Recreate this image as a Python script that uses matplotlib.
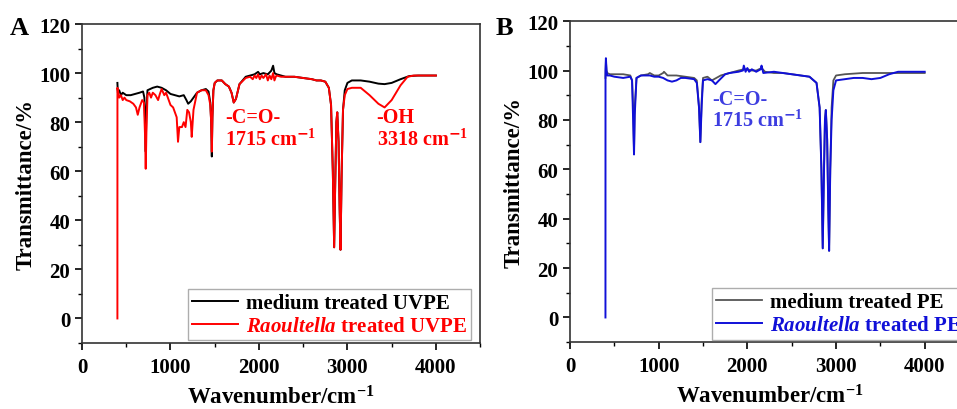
import matplotlib
matplotlib.use('Agg')
import matplotlib.pyplot as plt
from matplotlib.ticker import MultipleLocator

plt.rcParams['font.family'] = 'Liberation Serif'
plt.rcParams['font.weight'] = 'bold'
plt.rcParams['mathtext.fontset'] = 'custom'
plt.rcParams['mathtext.rm'] = 'Liberation Serif:bold'
plt.rcParams['mathtext.it'] = 'Liberation Serif:italic:bold'
plt.rcParams['mathtext.bf'] = 'Liberation Serif:bold'

# ---- panel A : UVPE ----
wn_a_med = [400, 405, 420, 440, 460, 500, 550, 600, 650, 690, 705, 713, 720, 727, 740, 770,
            800, 850, 900, 950, 1000, 1050, 1100, 1150, 1180, 1200, 1230, 1260, 1300, 1350,
            1400, 1430, 1450, 1460, 1467, 1474, 1485, 1500, 1530, 1580, 1620, 1660, 1690,
            1715, 1740, 1780, 1850, 1900, 1950, 1990, 2010, 2050, 2100, 2140, 2160, 2175,
            2200, 2250, 2300, 2400, 2500, 2600, 2650, 2700, 2750, 2790, 2815, 2835, 2850,
            2862, 2875, 2885, 2900, 2912, 2922, 2935, 2950, 2970, 3000, 3050, 3150, 3250,
            3350, 3420, 3500, 3600, 3700, 3800, 3900, 4000]
tr_a_med = [96, 92, 93, 91, 92, 91, 91, 91.5, 92, 92.5, 90, 80, 68, 84, 93, 93.5,
            94, 94.5, 94, 93, 91.5, 91, 90.5, 91, 89, 87.5, 88.5, 90, 92, 93,
            93.5, 92.5, 88, 80, 66, 82, 93, 96, 97, 97, 95.5, 94.5, 92,
            88, 89.5, 95.5, 98.5, 99, 99.5, 100.5, 99.5, 100, 99.5, 101, 103, 100,
            99.5, 99, 98.5, 98.5, 98, 97.5, 97, 97, 96.5, 94, 87, 60, 29,
            55, 80, 84, 72, 45, 28, 60, 85, 93, 96, 97, 97, 96.5,
            95.7, 95.5, 96, 97.5, 98.8, 99, 99, 99]

wn_a_rao = [400, 400.5, 405, 420, 440, 460, 480, 500, 540, 580, 610, 630, 650, 680, 700,
            712, 720, 728, 740, 760, 780, 800, 830, 860, 880, 900, 930, 950, 980, 1000,
            1030, 1050, 1070, 1085, 1100, 1130, 1150, 1170, 1190, 1210, 1230, 1240, 1260,
            1300, 1350, 1400, 1430, 1450, 1460, 1467, 1474, 1485, 1500, 1530, 1580, 1620,
            1660, 1690, 1715, 1740, 1780, 1850, 1900, 1930, 1950, 1970, 1990, 2010, 2030,
            2050, 2080, 2100, 2120, 2140, 2160, 2175, 2190, 2200, 2250, 2300, 2400, 2500,
            2600, 2650, 2700, 2750, 2790, 2815, 2835, 2850, 2862, 2875, 2885, 2900, 2912,
            2922, 2935, 2950, 2970, 3000, 3050, 3150, 3250, 3350, 3420, 3500, 3600, 3680,
            3750, 3850, 4000]
tr_a_rao = [0, 94, 93, 90, 91, 89, 90, 89, 88.5, 87.5, 86, 83, 86, 89, 88,
            75, 61, 76, 91, 92, 90, 92, 91, 89, 91.5, 93.5, 91, 92, 89, 87,
            86, 84, 82, 72, 78, 78, 80, 78, 85, 84, 80, 74, 85,
            92, 93, 93, 91, 87, 80, 68, 82, 93, 96, 97, 97, 95.5,
            94.5, 92, 88, 89.5, 95.5, 98, 98.5, 97.5, 99, 98, 99.5, 97.5, 99,
            98, 99.5, 97, 99, 97.5, 100, 97, 98.5, 99, 98.5, 98.5, 98.5, 98,
            97.5, 97, 97, 96.5, 94, 87, 60, 29,
            55, 80, 84, 72, 45, 28, 60, 85, 91, 93.5, 94, 94, 91,
            87.5, 86, 89, 95, 98.5, 99, 99, 99]

# ---- panel B : PE ----
wn_b_med = [400, 405, 412, 420, 450, 500, 600, 680, 700, 712, 722, 730, 750, 800, 880,
            900, 950, 1000, 1050, 1060, 1100, 1200, 1300, 1400, 1430, 1455, 1470, 1485,
            1500, 1550, 1600, 1650, 1700, 1800, 1900, 1960, 2000, 2050, 2100, 2160, 2200,
            2300, 2400, 2500, 2600, 2700, 2780, 2815, 2835, 2850, 2862, 2875, 2885, 2900,
            2912, 2922, 2935, 2950, 2970, 3000, 3100, 3300, 3600, 4000]
tr_b_med = [97, 104, 100, 99, 98.5, 98.5, 98.5, 98, 96, 85, 67, 85, 97, 98, 98.5,
            99, 98, 98, 99, 99.5, 98, 98, 97.5, 97, 96, 85, 71, 88,
            97, 97.5, 96, 97, 98, 99, 100, 100.5, 100.5, 100, 100, 101, 99.5,
            99, 99, 98.5, 98, 97.5, 95, 85, 60, 28, 55, 80, 84, 72,
            45, 27, 60, 85, 96, 98, 98.5, 99, 99, 99]

wn_b_rao = [400, 400.5, 405, 412, 420, 450, 500, 600, 680, 700, 712, 722, 730, 750, 800,
            900, 950, 1000, 1050, 1100, 1150, 1200, 1250, 1300, 1400, 1430, 1455, 1470,
            1485, 1500, 1550, 1600, 1640, 1680, 1750, 1800, 1900, 1950, 1960, 1980, 2000,
            2020, 2050, 2100, 2150, 2160, 2180, 2300, 2400, 2500, 2600, 2700, 2780, 2815,
            2835, 2850, 2862, 2875, 2885, 2900, 2912, 2922, 2935, 2950, 2970, 3000, 3100,
            3200, 3300, 3400, 3500, 3600, 3700, 4000]
tr_b_rao = [0, 100, 105, 100, 98, 98, 97.5, 97, 97.5, 96, 80, 66, 82, 97, 98,
            98, 97.5, 97.5, 97, 96, 95.5, 96, 97, 97, 96.5, 95, 85, 71,
            86, 96, 96.5, 96, 94.5, 96, 98.5, 99, 99.5, 100, 102, 99.5, 101,
            99.5, 100.5, 99.5, 100.5, 102, 99, 99.5, 99, 98.5, 98, 97.5, 95, 85,
            60, 28, 55, 80, 84, 72, 45, 27, 60, 80, 92, 96, 96.5,
            97, 97, 96.5, 97, 98.5, 99.5, 99.5]

red = '#ff0000'
blue = '#1010d8'
blue_txt = '#3d3de0'
gray = '#555555'

fig = plt.figure(figsize=(9.57, 4.10), dpi=100)
ax1 = fig.add_axes([0.0857, 0.161, 0.416, 0.778])
ax2 = fig.add_axes([0.5956, 0.163, 0.417, 0.783])


def style(ax):
    ax.set_xlim(0, 4500)
    ax.set_ylim(-10, 120)
    ax.xaxis.set_major_locator(MultipleLocator(1000))
    ax.xaxis.set_minor_locator(MultipleLocator(500))
    ax.yaxis.set_major_locator(MultipleLocator(20))
    ax.yaxis.set_minor_locator(MultipleLocator(10))
    ax.tick_params(which='major', direction='out', length=5, width=1.2, labelsize=15,
                   top=False, right=False)
    ax.tick_params(axis='x', which='major', pad=5)
    ax.tick_params(which='minor', direction='out', length=3, width=1.0,
                   top=False, right=False)
    for s in ax.spines.values():
        s.set_linewidth(1.2)
        s.set_color('#333333')
    ax.set_xlabel('Wavenumber/cm$^{-1}$', fontsize=16.5, fontweight='bold', labelpad=6)
    ax.set_ylabel('Transmittance/%', fontsize=16.5, fontweight='bold', labelpad=2)


ax1.plot(wn_a_med, tr_a_med, color='black', lw=1.4, label='medium treated UVPE')
ax1.plot(wn_a_rao, tr_a_rao, color=red, lw=1.4, label='$\\it{Raoultella}$ treated UVPE')
style(ax1)
ax1.text(1620, 82, '-C=O-', color=red, fontsize=14.5, fontweight='bold', va='center')
ax1.text(1620, 73, '1715 cm$^{\\mathsf{-}1}$', color=red, fontsize=14.5, fontweight='bold', va='center')
ax1.text(3330, 82, '-OH', color=red, fontsize=14.5, fontweight='bold', va='center')
ax1.text(3330, 73, '3318 cm$^{\\mathsf{-}1}$', color=red, fontsize=14.5, fontweight='bold', va='center')
leg1 = ax1.legend(loc='lower right', bbox_to_anchor=(0.978, 0.008), fontsize=15,
                  frameon=True, fancybox=False, edgecolor='#999999', handlelength=2.2,
                  borderpad=0.2, labelspacing=0.15, handletextpad=0.4, borderaxespad=0)
leg1.get_frame().set_linewidth(1.0)
leg1.get_texts()[1].set_color(red)
fig.text(0.01, 0.93, 'A', fontsize=19, fontweight='bold', va='center')

ax2.plot(wn_b_med, tr_b_med, color=gray, lw=1.3, label='medium treated PE')
ax2.plot(wn_b_rao, tr_b_rao, color=blue, lw=1.4, label='$\\it{Raoultella}$ treated PE')
style(ax2)
ax2.text(1600, 88.5, '-C=O-', color=blue_txt, fontsize=14.5, fontweight='bold', va='center')
ax2.text(1600, 80, '1715 cm$^{\\mathsf{-}1}$', color=blue_txt, fontsize=14.5, fontweight='bold', va='center')
leg2 = ax2.legend(loc='lower left', bbox_to_anchor=(0.356, 0.008), fontsize=15,
                  frameon=True, fancybox=False, edgecolor='#999999', handlelength=2.2,
                  borderpad=0.2, labelspacing=0.15, handletextpad=0.4, borderaxespad=0)
leg2.get_frame().set_linewidth(1.0)
leg2.get_texts()[1].set_color(blue)
fig.text(0.518, 0.93, 'B', fontsize=19, fontweight='bold', va='center')

fig.savefig('out.png', dpi=100)
